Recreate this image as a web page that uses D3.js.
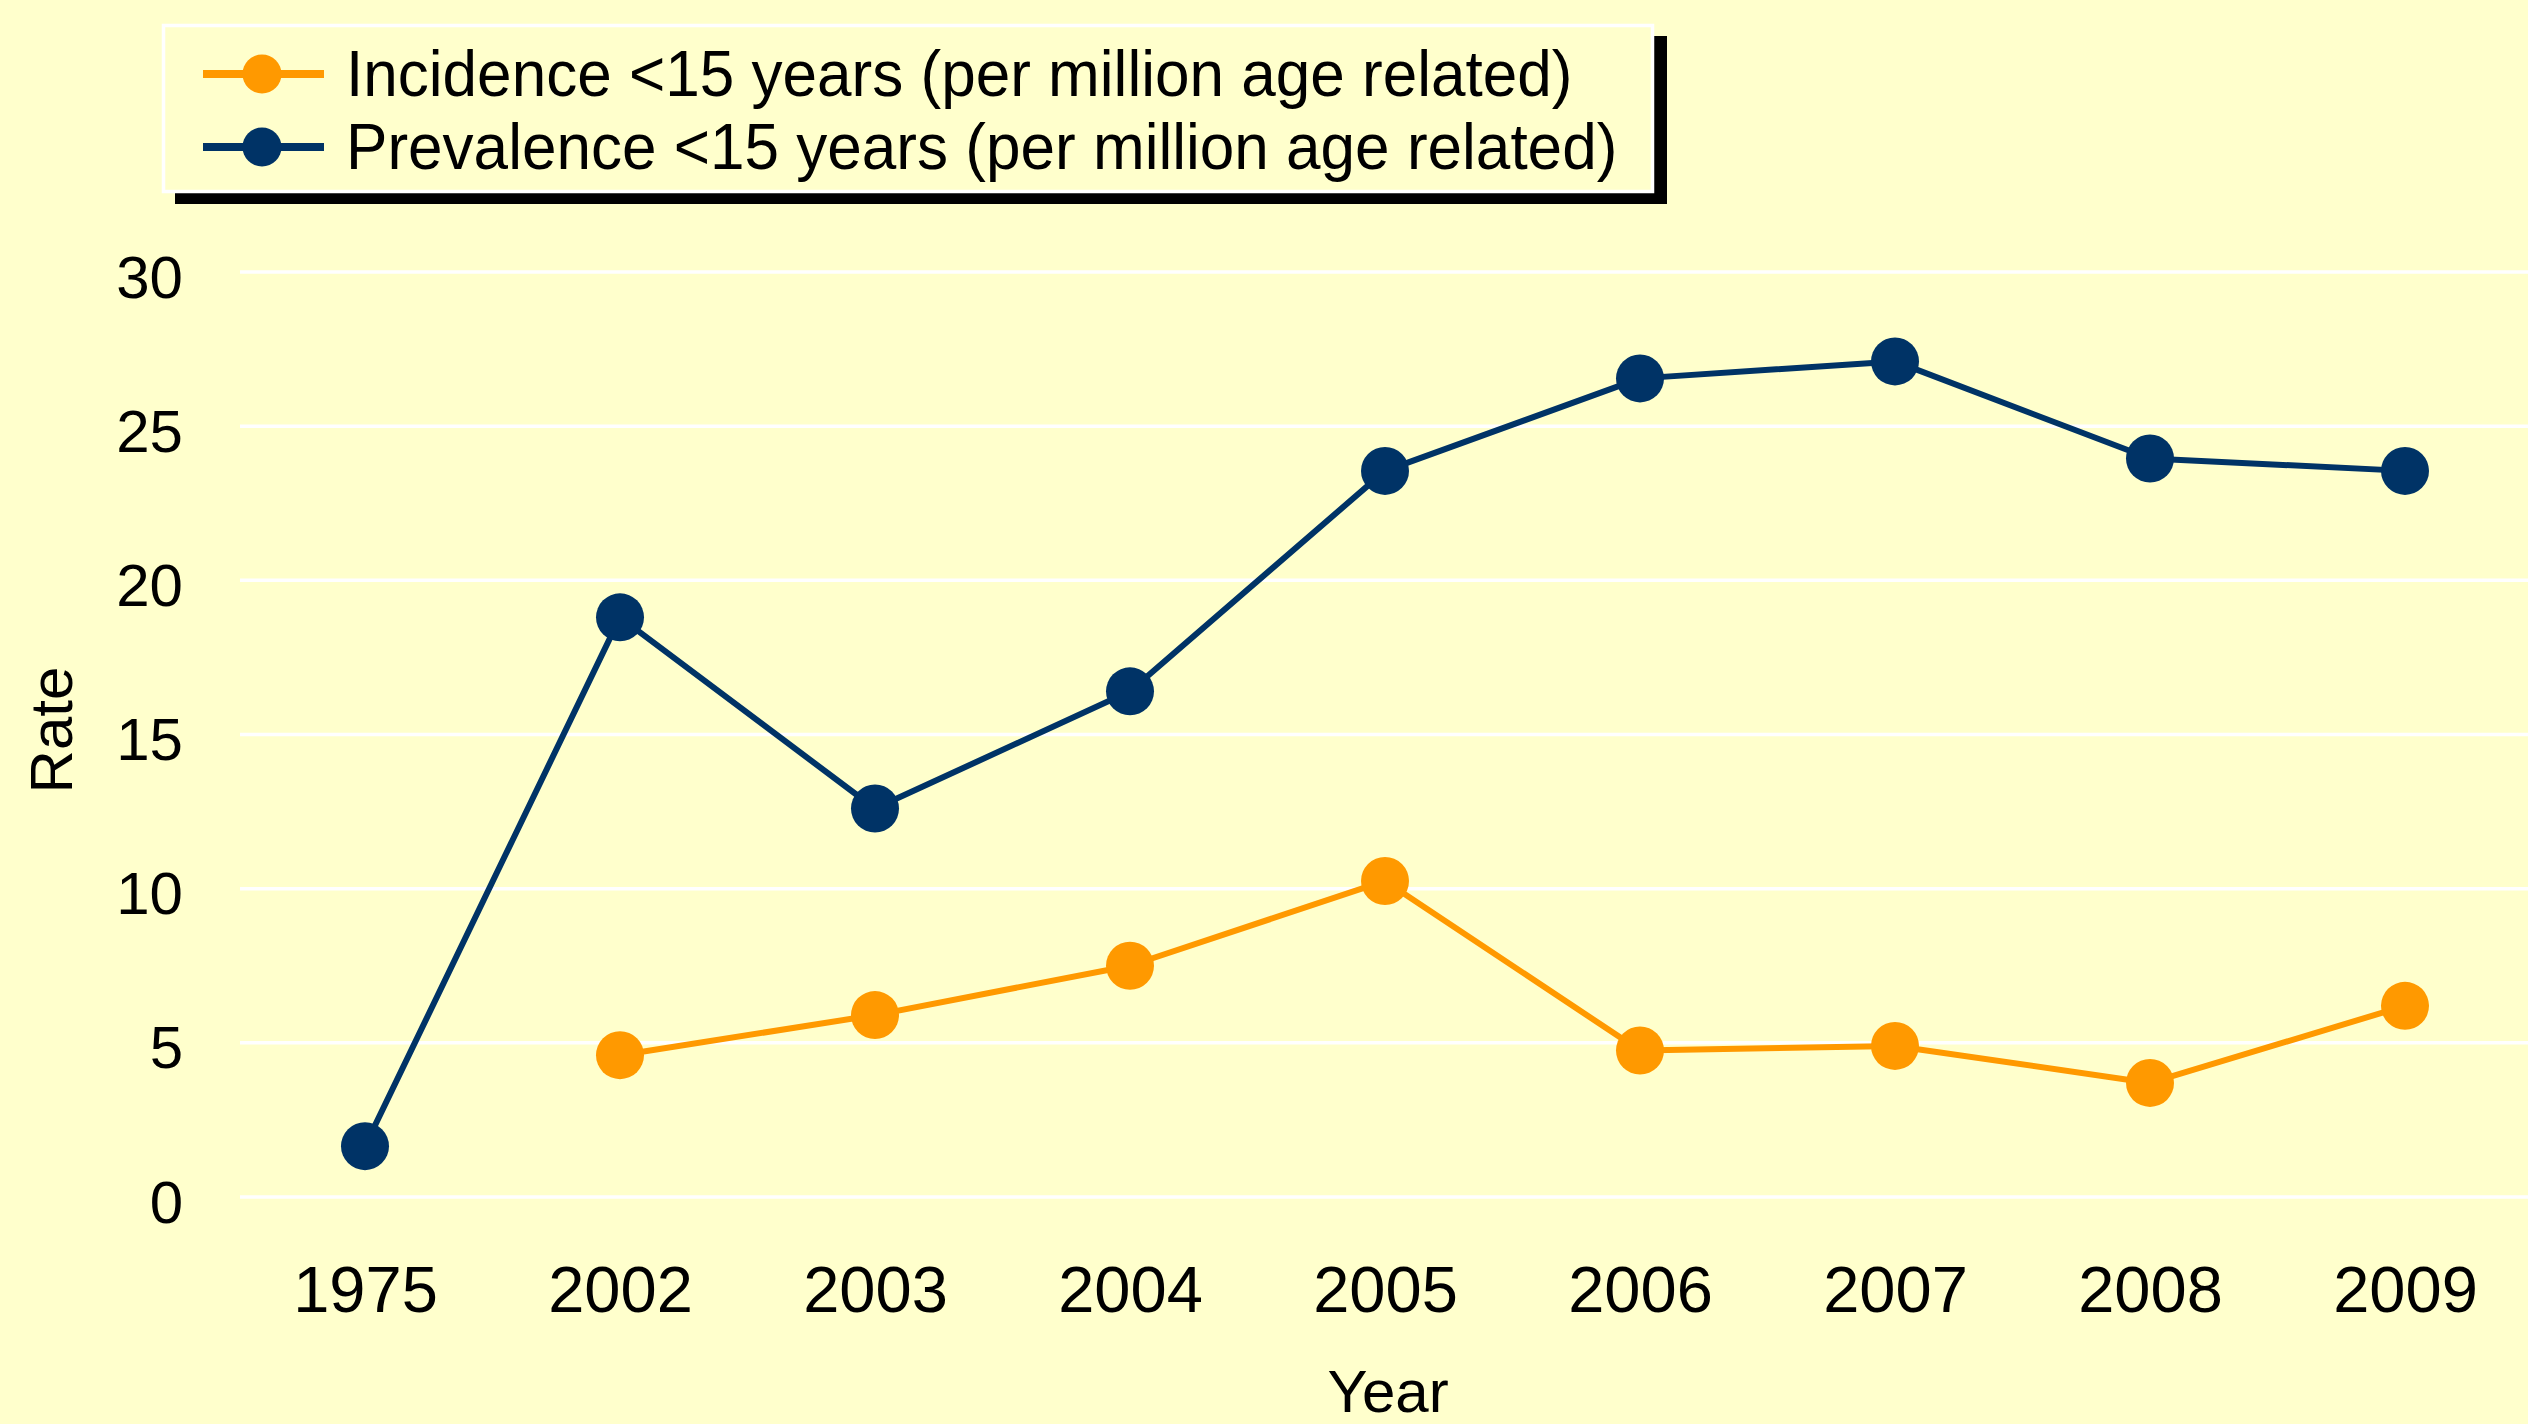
<!DOCTYPE html>
<html>
<head>
<meta charset="utf-8">
<script src="https://cdn.jsdelivr.net/npm/d3@7"></script>
<style>
  html, body { margin: 0; padding: 0; background: #FFFFCC; }
  svg { display: block; }
  text { font-family: "Liberation Sans", Arial, sans-serif; fill: #000; }
</style>
</head>
<body>
<svg id="chart" width="2528" height="1424"></svg>
<script>
// Years on the category axis
const years = ["1975", "2002", "2003", "2004", "2005", "2006", "2007", "2008", "2009"];
// Incidence <15 years (per million age related); no value for 1975
const incidence = [null, 4.6, 5.9, 7.5, 10.25, 4.75, 4.9, 3.7, 6.2];
// Prevalence <15 years (per million age related)
const prevalence = [1.65, 18.8, 12.6, 16.4, 23.55, 26.55, 27.1, 23.95, 23.55];
// Value axis ticks
const yTicks = [0, 5, 10, 15, 20, 25, 30];

const seriesNames = [
  "Incidence <15 years (per million age related)",
  "Prevalence <15 years (per million age related)"
];
const seriesColors = ["#FF9900", "#003366"];
const seriesValues = [incidence, prevalence];

const W = 2528, H = 1424;
const svg = d3.select("#chart");

svg.append("rect").attr("width", W).attr("height", H).attr("fill", "#FFFFCC");

const x = d3.scalePoint().domain(years).range([237.5, 2532.5]).padding(0.5);
const y = d3.scaleLinear().domain([0, 30]).range([1197, 272]);

// Horizontal gridlines
svg.append("g").selectAll("line").data(yTicks).join("line")
  .attr("x1", 240).attr("x2", W)
  .attr("y1", d => y(d)).attr("y2", d => y(d))
  .attr("stroke", "#FFFFFF").attr("stroke-width", 3.5);

// Value axis (labels only)
const yAxis = d3.axisLeft(y).tickValues(yTicks).tickSize(0).tickPadding(0);
const yg = svg.append("g").attr("transform", "translate(183,0)").call(yAxis);
yg.select(".domain").remove();
yg.selectAll("text")
  .attr("font-size", 60).attr("font-family", "Liberation Sans, Arial, sans-serif")
  .attr("fill", "#000").attr("dy", 25).attr("x", 0);

// Category axis (labels only)
const xAxis = d3.axisBottom(x).tickSize(0).tickPadding(0);
const xg = svg.append("g").attr("transform", "translate(0,1312)").call(xAxis);
xg.select(".domain").remove();
xg.selectAll("text")
  .attr("font-size", 65).attr("font-family", "Liberation Sans, Arial, sans-serif")
  .attr("fill", "#000").attr("y", 0).attr("dy", 0);

// Axis titles
svg.append("text").text("Year")
  .attr("x", 1388).attr("y", 1412).attr("text-anchor", "middle").attr("font-size", 60);
svg.append("text").text("Rate")
  .attr("transform", "translate(72,730) rotate(-90)")
  .attr("text-anchor", "middle").attr("font-size", 60);

// Series lines and markers
const line = d3.line()
  .defined(d => d.v != null)
  .x(d => x(d.year))
  .y(d => y(d.v));

seriesValues.forEach((vals, i) => {
  const pts = years.map((yr, j) => ({ year: yr, v: vals[j] }));
  const g = svg.append("g");
  g.append("path").datum(pts)
    .attr("d", line)
    .attr("fill", "none")
    .attr("stroke", seriesColors[i])
    .attr("stroke-width", 6)
    .attr("stroke-linejoin", "round");
  g.selectAll("ellipse").data(pts.filter(d => d.v != null)).join("ellipse")
    .attr("cx", d => x(d.year)).attr("cy", d => y(d.v))
    .attr("rx", 24).attr("ry", 24)
    .attr("fill", seriesColors[i]);
});

// Legend with drop shadow
const legend = svg.append("g");
legend.append("rect")
  .attr("x", 175).attr("y", 36).attr("width", 1492).attr("height", 168)
  .attr("fill", "#000");
legend.append("rect")
  .attr("x", 163.5).attr("y", 25.5).attr("width", 1489).attr("height", 166)
  .attr("fill", "#FFFFCC").attr("stroke", "#FFFFFF").attr("stroke-width", 3.5);

const rowY = [74, 147];
seriesNames.forEach((name, i) => {
  legend.append("line")
    .attr("x1", 203).attr("x2", 324)
    .attr("y1", rowY[i]).attr("y2", rowY[i])
    .attr("stroke", seriesColors[i]).attr("stroke-width", 8);
  legend.append("circle")
    .attr("cx", 262).attr("cy", rowY[i]).attr("r", 19.5)
    .attr("fill", seriesColors[i]);
  legend.append("text")
    .attr("transform", `translate(346,${rowY[i] + 22}) scale(0.955,1)`)
    .attr("font-size", 65)
    .text(name);
});
</script>
</body>
</html>
